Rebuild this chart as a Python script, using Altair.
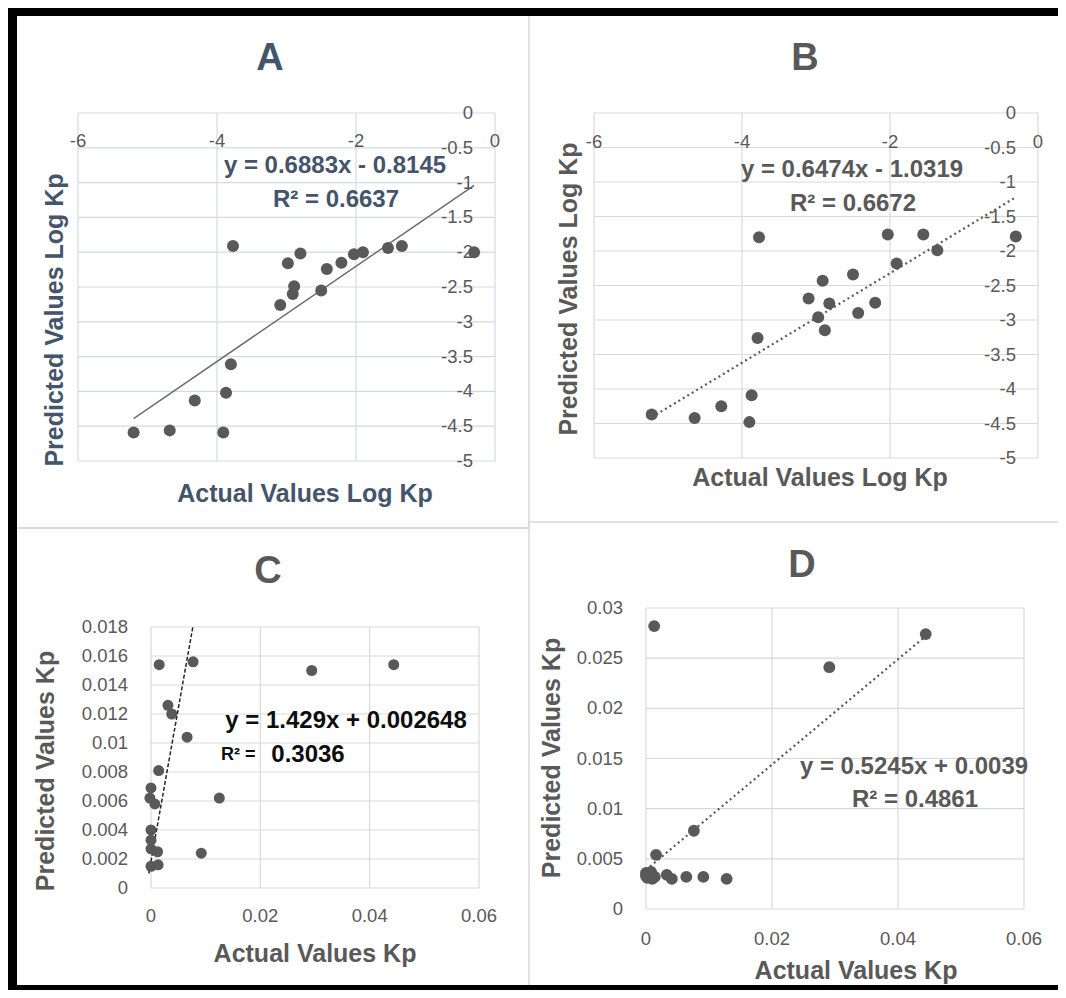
import altair as alt
import pandas as pd

# ---------------- data ----------------
# Panel A : log Kp, solid trend line
a_actual = [-5.20, -4.68, -4.32, -3.91, -3.87, -3.80, -3.77, -3.09, -2.98, -2.89,
            -2.91, -2.80, -2.50, -2.42, -2.21, -2.03, -1.90, -1.54, -1.34, -0.30]
a_pred = [-4.59, -4.56, -4.13, -4.59, -4.02, -3.61, -1.91, -2.76, -2.16, -2.49,
          -2.60, -2.02, -2.55, -2.24, -2.15, -2.03, -2.00, -1.94, -1.91, -2.00]
a_trend_x = [-5.20, -0.30]
a_trend_y = [-4.39, -1.04]

# Panel B : log Kp, dotted trend line
b_actual = [-5.22, -4.64, -4.28, -3.87, -3.90, -3.79, -3.77, -3.10, -2.97, -2.91,
            -2.88, -2.82, -2.50, -2.43, -2.20, -2.03, -1.91, -1.55, -1.36, -0.30]
b_pred = [-4.37, -4.42, -4.25, -4.09, -4.48, -3.26, -1.80, -2.69, -2.96, -2.43,
          -3.15, -2.76, -2.34, -2.90, -2.75, -1.76, -2.18, -1.76, -1.99, -1.79]
b_trend_x = [-5.22, -0.30]
b_trend_y = [-4.41, -1.22]

# Panel C : Kp, dashed trend line
c_actual = [0.0015, 0.0077, 0.0294, 0.0444, 0.0031, 0.0038, 0.0066, 0.0014, 0.0000, -0.0002,
            0.0007, 0.0125, 0.0000, 0.0000, 0.0000, 0.0012, 0.0092, 0.0000, 0.0013]
c_pred = [0.0154, 0.0156, 0.0150, 0.0154, 0.0126, 0.0120, 0.0104, 0.0081, 0.0069, 0.0062,
          0.0058, 0.0062, 0.0040, 0.0033, 0.0027, 0.0025, 0.0024, 0.0015, 0.0016]
c_trend_x = [-0.0004, 0.0077]
c_trend_y = [0.0010, 0.0181]

# Panel D : Kp, dotted trend line
d_actual = [0.0013, 0.0291, 0.0444, 0.0076, 0.0016, 0.0000, 0.0002, 0.0006, 0.0010, 0.0014,
            0.0000, 0.0008, 0.0033, 0.0041, 0.0064, 0.0091, 0.0128]
d_pred = [0.0282, 0.0241, 0.0274, 0.0078, 0.0054, 0.0036, 0.0031, 0.0034, 0.0030, 0.0032,
          0.0033, 0.0037, 0.0034, 0.0030, 0.0032, 0.0032, 0.0030]
d_trend_x = [0.0, 0.0444]
d_trend_y = [0.0039, 0.0272]

# tick values and labels
log_x_ticks = [-6, -4, -2, 0]
log_x_labels = ["-6", "-4", "-2", "0"]
log_y_ticks = [0, -0.5, -1, -1.5, -2, -2.5, -3, -3.5, -4, -4.5, -5]
log_y_labels = ["0", "-0.5", "-1", "-1.5", "-2", "-2.5", "-3", "-3.5", "-4", "-4.5", "-5"]
kp_x_ticks = [0, 0.02, 0.04, 0.06]
kp_x_labels = ["0", "0.02", "0.04", "0.06"]
c_y_ticks = [0, 0.002, 0.004, 0.006, 0.008, 0.01, 0.012, 0.014, 0.016, 0.018]
c_y_labels = ["0", "0.002", "0.004", "0.006", "0.008", "0.01", "0.012", "0.014", "0.016", "0.018"]
d_y_ticks = [0, 0.005, 0.01, 0.015, 0.02, 0.025, 0.03]
d_y_labels = ["0", "0.005", "0.01", "0.015", "0.02", "0.025", "0.03"]

panel_titles = ["A", "B", "C", "D"]
log_x_title = "Actual Values Log Kp"
log_y_title = "Predicted Values Log Kp"
kp_x_title = "Actual Values Kp"
kp_y_title = "Predicted Values Kp"
eq_a = ["y = 0.6883x - 0.8145", "R² = 0.6637"]
eq_b = ["y = 0.6474x - 1.0319", "R² = 0.6672"]
eq_c = ["y = 1.429x + 0.002648", "R² =", "0.3036"]
eq_d = ["y = 0.5245x + 0.0039", "R² = 0.4861"]

# ---------------- styling / layout ----------------
W, H = 1050, 982
FONT = "Liberation Sans"
SLATE = "#44546A"
GRAY = "#595959"
TICK = "#595959"
PT = "#595959"
TICK_SIZE = 18.5
AX_SIZE = 25
EQ_SIZE = 24

PANELS = {
    "A": dict(xdom=[-6, 0], xr=[70, 487], ydom=[-5, 0], yr=[453, 105], grid="#D3DAE4",
              xlab_dy=28, ylab_dx=-22),
    "B": dict(xdom=[-6, 0], xr=[586, 1030], ydom=[-5, 0], yr=[450, 105], grid="#D9D9D9",
              xlab_dy=29, ylab_dx=-22),
    "C": dict(xdom=[0, 0.06], xr=[143, 471], ydom=[0, 0.018], yr=[880, 619], grid="#D9D9D9",
              xlab_dy=28, ylab_dx=-23),
    "D": dict(xdom=[0, 0.06], xr=[638, 1016], ydom=[0, 0.03], yr=[901, 600], grid="#D9D9D9",
              xlab_dy=30, ylab_dx=-23),
}


def panel_layers(key, xs, ys, tx, ty, xticks, xlabels, yticks, ylabels,
                 pt_size, trend_color, trend_width, trend_dash):
    cfg = PANELS[key]
    sx = alt.Scale(domain=cfg["xdom"], range=cfg["xr"], nice=False, zero=False)
    sy = alt.Scale(domain=cfg["ydom"], range=cfg["yr"], nice=False, zero=False)

    def X(f):
        return alt.X(f, type="quantitative", scale=sx, axis=None)

    def Y(f):
        return alt.Y(f, type="quantitative", scale=sy, axis=None)

    xmin, xmax = cfg["xdom"]
    ymin, ymax = cfg["ydom"]
    hgrid = alt.Chart(pd.DataFrame({"v": yticks, "lo": [xmin] * len(yticks),
                                    "hi": [xmax] * len(yticks)})).mark_rule(
        color=cfg["grid"], strokeWidth=1.2).encode(y=Y("v"), x=X("lo"), x2=alt.X2("hi"))
    vgrid = alt.Chart(pd.DataFrame({"v": xticks, "lo": [ymin] * len(xticks),
                                    "hi": [ymax] * len(xticks)})).mark_rule(
        color=cfg["grid"], strokeWidth=1.2).encode(x=X("v"), y=Y("lo"), y2=alt.Y2("hi"))
    line_kw = dict(color=trend_color, strokeWidth=trend_width)
    if trend_dash:
        line_kw["strokeDash"] = trend_dash
    trend = alt.Chart(pd.DataFrame({"x": tx, "y": ty})).mark_line(**line_kw).encode(
        x=X("x"), y=Y("y"))
    pts = alt.Chart(pd.DataFrame({"x": xs, "y": ys})).mark_circle(
        size=pt_size, color=PT, opacity=1).encode(x=X("x"), y=Y("y"))
    xl = alt.Chart(pd.DataFrame({"v": xticks, "lab": xlabels, "base": [0] * len(xticks)})).mark_text(
        dy=cfg["xlab_dy"], align="center", baseline="middle", font=FONT, fontSize=TICK_SIZE,
        color=TICK).encode(x=X("v"), y=Y("base"), text="lab:N")
    yl = alt.Chart(pd.DataFrame({"v": yticks, "lab": ylabels, "base": [0] * len(yticks)})).mark_text(
        dx=cfg["ylab_dx"], align="right", baseline="middle", font=FONT, fontSize=TICK_SIZE,
        color=TICK).encode(x=X("base"), y=Y("v"), text="lab:N")
    return [hgrid, vgrid, trend, pts, xl, yl]


def txt(s, x, y, size, color, bold=True, angle=0, align="center"):
    kw = dict(align=align, baseline="middle", font=FONT, fontSize=size, color=color,
              fontWeight="bold" if bold else "normal")
    if angle:
        kw["angle"] = angle
    return alt.Chart(pd.DataFrame({"t": [s]})).mark_text(**kw).encode(
        x=alt.value(x), y=alt.value(y), text="t:N")


def rule(x, y, x2=None, y2=None, color="#D9D9D9", width=1.5):
    enc = dict(x=alt.value(x), y=alt.value(y))
    if x2 is not None:
        enc["x2"] = alt.value(x2)
    if y2 is not None:
        enc["y2"] = alt.value(y2)
    return alt.Chart(pd.DataFrame({"k": [0]})).mark_rule(color=color, strokeWidth=width).encode(**enc)


layers = []
# panel separators and outer black frame (top, left, bottom)
layers += [
    rule(521, 8, y2=520, color="#D9D9D9", width=1.5),
    rule(9, 520, x2=521, color="#D9D9D9", width=2),
    rule(W + 30, 514, x2=521, color="#D9D9D9", width=1.5),
    rule(521, 514, y2=977, color="#D9D9D9", width=1.5),
    rule(W + 30, 4, x2=0, color="black", width=8),
    rule(4.5, 0, y2=H, color="black", width=9),
    rule(W + 30, 979.5, x2=0, color="black", width=5),
]

layers += panel_layers("A", a_actual, a_pred, a_trend_x, a_trend_y, log_x_ticks, log_x_labels,
                       log_y_ticks, log_y_labels, 144, "#6E6E6E", 1.5, None)
layers += panel_layers("B", b_actual, b_pred, b_trend_x, b_trend_y, log_x_ticks, log_x_labels,
                       log_y_ticks, log_y_labels, 144, "#595959", 2.2, [2, 3.2])
layers += panel_layers("C", c_actual, c_pred, c_trend_x, c_trend_y, kp_x_ticks, kp_x_labels,
                       c_y_ticks, c_y_labels, 121, "#262626", 1.5, [4, 2])
layers += panel_layers("D", d_actual, d_pred, d_trend_x, d_trend_y, kp_x_ticks, kp_x_labels,
                       d_y_ticks, d_y_labels, 140, "#595959", 2.2, [2, 3.2])

# titles, axis titles, equations
layers += [
    txt(panel_titles[0], 262, 51, 38, SLATE),
    txt(log_y_title, 47, 312, AX_SIZE, SLATE, angle=270),
    txt(log_x_title, 297, 486, AX_SIZE, SLATE),
    txt(eq_a[0], 327, 158, EQ_SIZE, SLATE),
    txt(eq_a[1], 328, 192, EQ_SIZE, SLATE),

    txt(panel_titles[1], 797, 51, 38, GRAY),
    txt(log_y_title, 561, 281, AX_SIZE, GRAY, angle=270),
    txt(log_x_title, 812, 470, AX_SIZE, GRAY),
    txt(eq_b[0], 844, 162, EQ_SIZE, GRAY),
    txt(eq_b[1], 845, 196, EQ_SIZE, GRAY),

    txt(panel_titles[2], 260, 564, 38, GRAY),
    txt(kp_y_title, 38, 763, AX_SIZE, GRAY, angle=270),
    txt(kp_x_title, 307, 946, AX_SIZE, GRAY),
    txt(eq_c[0], 338, 713, EQ_SIZE, "#0D0D0D"),
    txt(eq_c[1], 213, 747, 18, "#0D0D0D", align="left"),
    txt(eq_c[2], 300, 747, EQ_SIZE, "#0D0D0D"),

    txt(panel_titles[3], 794, 558, 38, GRAY),
    txt(kp_y_title, 544, 750, AX_SIZE, GRAY, angle=270),
    txt(kp_x_title, 848, 963, AX_SIZE, GRAY),
    txt(eq_d[0], 906, 759, EQ_SIZE, GRAY),
    txt(eq_d[1], 907, 792, EQ_SIZE, GRAY),
]

chart = alt.layer(*layers).resolve_scale(x="independent", y="independent").properties(
    width=W, height=H, padding=0, background="white",
    autosize=alt.AutoSizeParams(type="none")
).configure_view(stroke=None)

chart.save("out.html", embed_options={"renderer": "svg", "actions": False})
